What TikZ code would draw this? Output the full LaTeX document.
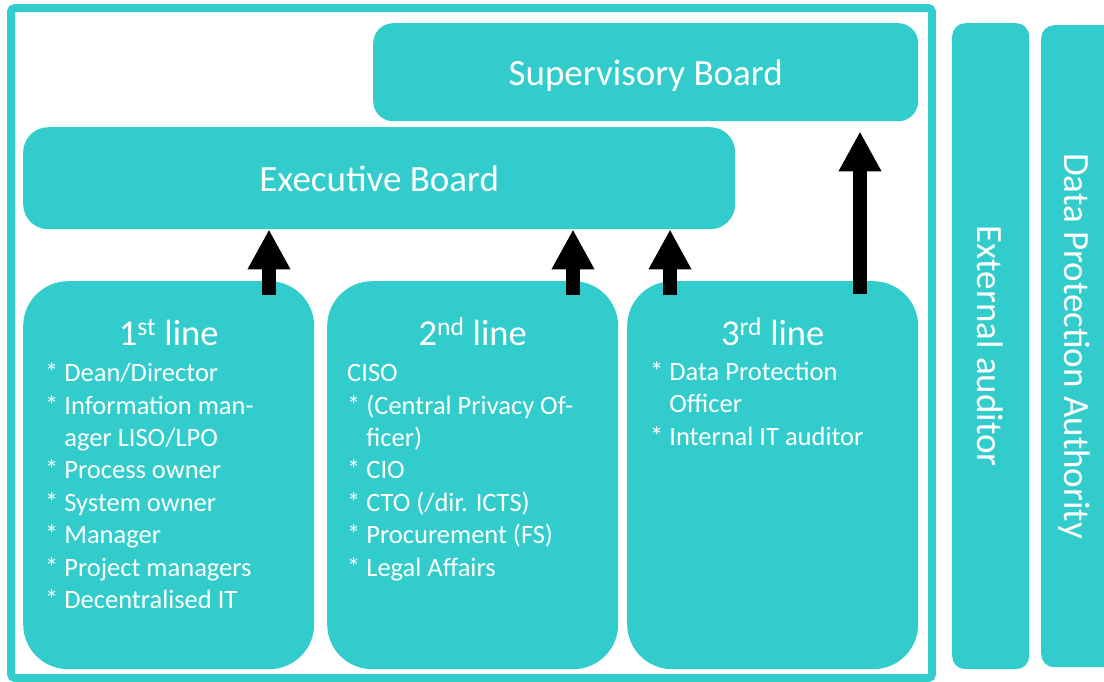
\documentclass[tikz,border=0pt]{standalone}
\usepackage{fontspec}
\setmainfont{Carlito}
\usepackage{xcolor}
\usetikzlibrary{arrows.meta,positioning,calc}
\definecolor{tuerkis}{RGB}{51,204,204}
% Einzug fuer Folgezeilen nach "* "
\newcommand{\weiter}{\phantom{*}\ }

\begin{document}
\begin{tikzpicture}[x=1pt,y=-1pt,
  box/.style={fill=tuerkis,draw=none,inner sep=0pt,anchor=north west,text=white},
  linebox/.style={box,rounded corners=45pt,minimum width=291pt,minimum height=388pt},
  head/.style={text=white,inner sep=0pt,anchor=base,font=\fontsize{36.5}{43}\selectfont},
  liste/.style={text=white,inner sep=0pt,anchor=base west,align=left,font=\fontsize{26.5}{32.4}\selectfont},
  gross/.style={text=white,inner sep=0pt,font=\fontsize{37}{44}\selectfont},
  pfeil/.style={line width=14pt,-{Triangle[width=40pt,length=40pt]}}]
\useasboundingbox (0,0) rectangle (1104,681);
%Rahmen
\draw[tuerkis,line width=8pt,rounded corners=4pt] (11,8) rectangle (932,678);
\node[box,gross,rounded corners=20pt,minimum width=545pt,minimum height=98pt,text depth=0pt] (super) at (373,23) {Supervisory Board};
\node[box,gross,rounded corners=25pt,minimum width=712pt,minimum height=102pt,text depth=-3pt] (exec) at (23,127) {Executive Board};
%drei Linien
\foreach \n/\x in {l1/23,l2/327,l3/627}{
\node[linebox] (\n) at (\x,281) {};
}
\node[head] (l1h) at ($(l1.north)+(0,64)$) {1\textsuperscript{st} line};
\node[head] (l2h) at ($(l2.north)+(0,64)$) {2\textsuperscript{nd} line};
\node[head] (l3h) at ($(l3.north)+(0,64)$) {3\textsuperscript{rd} line};
%Grundlinie = letzte Zeile
\node[liste] (l1t) at (45,608.5) {* Dean/Director\\* Information man-\\\weiter ager LISO/LPO\\* Process owner\\* System owner\\* Manager\\* Project managers\\* Decentralised IT};
\node[liste] (l2t) at (347,576) {CISO\\* (Central Privacy Of-\\\weiter ficer)\\* CIO\\* CTO (/dir. ICTS)\\* Procurement (FS)\\* Legal Affairs};
\node[liste] (l3t) at (650,445) {* Data Protection\\\weiter Officer\\* Internal IT auditor};
%Pfeile nach oben
\foreach \n/\x in {p1/269,p2/573,p3/670}{
\coordinate (\n) at (\x,295);
\draw[pfeil] (\n) -- (\n |- exec.south);
}
\coordinate (p4) at (860,294);
\draw[pfeil,shorten >=10pt] (p4) -- (p4 |- super.south);
%rechts aussen
\node[box,rounded corners=13pt,minimum width=77pt,minimum height=646pt] (ext) at (952,23) {};
\node[gross,rotate=-90] (extt) at (ext.center) {External auditor};
\node[box,rounded corners=13pt,minimum width=80pt,minimum height=642pt] (dpa) at (1041,25) {};
\node[gross,rotate=-90] (dpat) at (1074,346) {Data Protection Authority};
\end{tikzpicture}
\end{document}
